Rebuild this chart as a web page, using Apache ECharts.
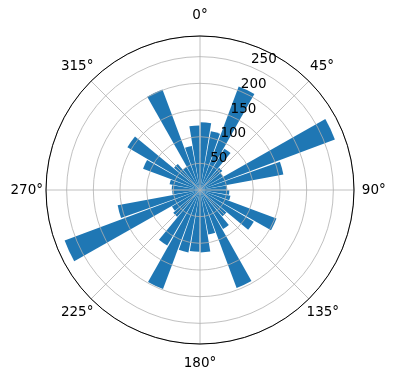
<!DOCTYPE html>
<html>
<head>
<meta charset="utf-8">
<script src="https://cdn.jsdelivr.net/npm/echarts@6/dist/echarts.min.js"></script>
<style>
html,body{margin:0;padding:0;background:#fff;}
#chart{width:396px;height:380px;}
</style>
</head>
<body>
<div id="chart"></div>
<script>
// Bar sectors: 36 directions, centred at 5°, 15°, ... 355°
const directions = ['5','15','25','35','45','55','65','75','85','95','105','115',
  '125','135','145','155','165','175','185','195','205','215','225','235',
  '245','255','265','275','285','295','305','315','325','335','345','355'];
const counts = [127,112,207,90,55,50,270,159,51,55,58,153,
  117,65,85,196,85,117,116,119,198,121,66,61,
  271,157,52,53,58,114,158,64,50,201,84,121];
// Tick labels
const angleTicks = [0,45,90,135,180,225,270,315];
const radiusTicks = [50,100,150,200,250];
const radiusMax = 288.75;

const FONT = 'DejaVu Sans';
const chart = echarts.init(document.getElementById('chart'), null, {renderer:'canvas'});
const C = [200, 190], R = 154;

// per-label padding (style only) so each label centre sits on a common ring
const labelPad = {
  a0:   [0, 0, 17.5, 0],
  a45:  [0, 0, 10.5, 4],
  a90:  [0, 0, 0, 11.8],
  a135: [9.7, 0, 0, 0.5],
  a180: [16, 0, 0, 0],
  a225: [9.7, 0.5, 0, 0],
  a270: [0, 7, 0, 0],
  a315: [0, 0.5, 10.5, 0]
};
const rich = {};
Object.keys(labelPad).forEach(function (k) {
  rich[k] = {padding: labelPad[k], fontFamily: FONT, fontSize: 13.5, color: '#000'};
});

chart.setOption({
  backgroundColor: '#ffffff',
  animation: false,
  polar: [
    {center: C, radius: R},
    {center: C, radius: R},
    {center: C, radius: R}
  ],
  angleAxis: [
    { polarIndex: 0, type: 'category', data: directions, startAngle: 90, clockwise: true,
      boundaryGap: true, show: false },
    { polarIndex: 1, type: 'value', min: 0, max: 360, interval: 45, startAngle: 90, clockwise: true,
      z: 11,
      axisLine: {show: true, lineStyle: {color: '#000', width: 1}},
      axisTick: {show: false},
      splitLine: {show: true, lineStyle: {color: '#b0b0b0', width: 0.8}},
      axisLabel: {show: true, margin: -4, color: '#000', fontFamily: FONT, fontSize: 13.5,
        rich: rich,
        formatter: function (v) { return angleTicks.indexOf(v) >= 0 ? '{a' + v + '|' + v + '°}' : ''; }} },
    { polarIndex: 2, type: 'value', min: 0, max: 360, startAngle: 67.5, clockwise: true, show: false }
  ],
  radiusAxis: [
    { polarIndex: 0, type: 'value', min: 0, max: radiusMax, show: false },
    { polarIndex: 1, type: 'value', min: 0, max: radiusMax, interval: 50, z: 10,
      axisLine: {show: false}, axisTick: {show: false}, axisLabel: {show: false},
      splitLine: {show: true, lineStyle: {color: '#b0b0b0', width: 0.8}} },
    { polarIndex: 2, type: 'value', min: 0, max: radiusMax, interval: 50, z: 12,
      axisLine: {show: false}, axisTick: {show: false}, splitLine: {show: false},
      axisLabel: {show: true, margin: 0, rotate: 0, align: 'left', verticalAlign: 'bottom',
        color: '#000', fontFamily: FONT, fontSize: 13.5,
        formatter: function (v) { return radiusTicks.indexOf(v) >= 0 ? String(v) : ''; }} }
  ],
  series: [{
    type: 'bar', coordinateSystem: 'polar', polarIndex: 0,
    data: counts, barWidth: '90%',
    itemStyle: {color: '#1f77b4'}
  }]
});
</script>
</body>
</html>
